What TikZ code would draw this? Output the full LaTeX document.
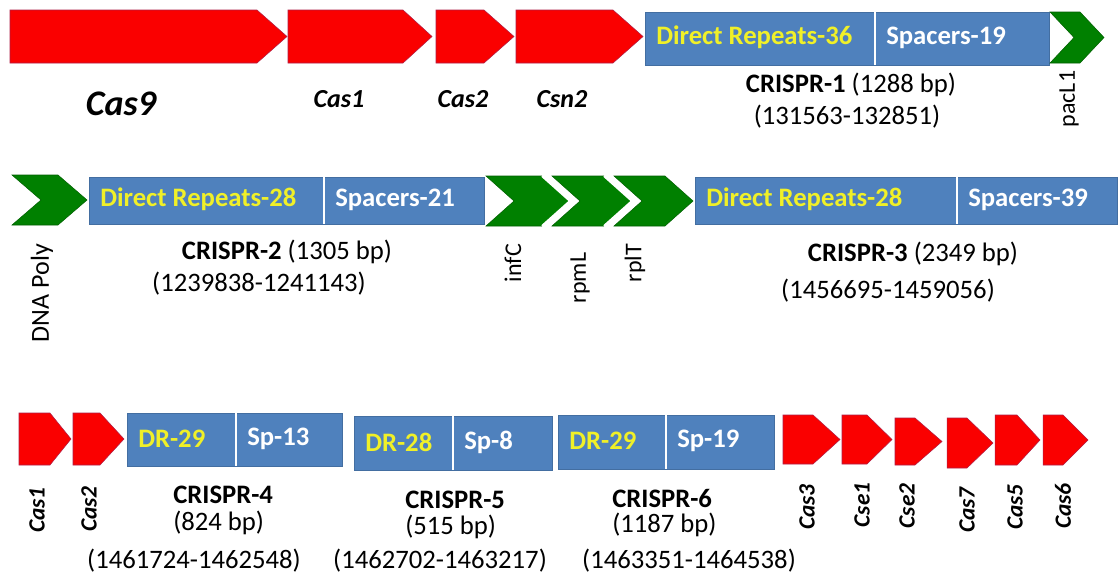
\documentclass[tikz,border=0pt]{standalone}
\usepackage{fontspec}
\setmainfont{Carlito}

\definecolor{genered}{RGB}{250,0,0}
\definecolor{geneedge}{RGB}{175,30,70}
\definecolor{genegreen}{RGB}{0,128,0}
\definecolor{crisprblue}{RGB}{79,129,189}
\definecolor{dryellow}{RGB}{240,240,40}

\tikzset{
  redgene/.style={fill=genered, draw=geneedge, line width=0.4pt, line join=miter},
  greengene/.style={fill=genegreen, draw=genegreen!75!black, line width=0.4pt},
  whitegap/.style={draw=white, line width=1.6pt},
  arraybox/.style={fill=crisprblue, draw=crisprblue!85!black, line width=0.4pt},
  boxtext/.style={font=\fontsize{20pt}{24pt}\selectfont\bfseries, anchor=west, inner sep=0pt},
  lbl/.style={font=\fontsize{20pt}{24pt}\selectfont, inner sep=0pt, text=black},
  lblw/.style={lbl, anchor=west},
  genebig/.style={font=\fontsize{27pt}{30pt}\selectfont\bfseries\itshape, inner sep=0pt},
  genetop/.style={font=\fontsize{19.5pt}{22pt}\selectfont\bfseries\itshape, inner sep=0pt},
  generot/.style={font=\fontsize{17.5pt}{20pt}\selectfont\bfseries\itshape, inner sep=0pt, rotate=90},
  smallrot/.style={font=\fontsize{18pt}{20pt}\selectfont, inner sep=0pt, rotate=90},
}

% gene arrow: left, shoulder, tip, top, bottom
\newcommand\genearrow[5]{%
  \draw[redgene] (#1,#4) -- (#2,#4) -- (#3,{(#4+#5)/2}) -- (#2,#5) -- (#1,#5) -- cycle;}
% chevron: left, shoulder, tip, top, bottom
\newcommand\genechevron[5]{%
  \filldraw[greengene] (#1,#4) -- (#2,#4) -- (#3,{(#4+#5)/2}) -- (#2,#5) -- (#1,#5)
    -- ({#1+#3-#2},{(#4+#5)/2}) -- cycle;}
% CRISPR array: name, left, divider, right, top, bottom, repeats text, spacers text
\newcommand\crisprarray[8]{%
  \draw[arraybox] (#2,#5) rectangle (#4,#6);
  \draw[white, line width=1.1pt] (#3,#5) -- (#3,#6);
  \node[boxtext, text=dryellow] (#1dr) at ({#2+11},{(#5+#6)/2-1}) {#7};
  \node[boxtext, text=white] (#1sp) at ({#3+11},{(#5+#6)/2-1}) {#8};}

\begin{document}
\begin{tikzpicture}[x=0.75pt, y=-0.75pt]
\useasboundingbox (0,0) rectangle (1119,575);
\fill[white] (0,0) rectangle (1119,575);

% ---- first row ----
\genearrow{10}{257}{287}{10}{63}
\genearrow{288}{403}{432}{10}{63}
\genearrow{436}{484}{514}{10}{63}
\genearrow{516}{613}{643}{10}{63}
\crisprarray{c1}{645}{875}{1049}{12}{65}{Direct Repeats-36}{Spacers-19}
\genechevron{1050}{1080}{1104}{12}{63}

\node[genebig] (cas9) at (121,104) {Cas9};
\node[genetop] (cas1a) at (339,99) {Cas1};
\node[genetop] (cas2a) at (463,99) {Cas2};
\node[genetop] (csn2) at (562,99) {Csn2};
\node[lbl] (cr1) at (851,85) {\textbf{CRISPR-1} (1288 bp)};
\node[lbl] (cr1pos) at (847,117) {(131563-132851)};
\node[smallrot] (pacl) at (1069,99) {pacL1};

% ---- second row ----
\genechevron{12}{58}{87}{175}{225}
\crisprarray{c2}{89}{324}{484}{177}{224}{Direct Repeats-28}{Spacers-21}
\genechevron{486}{542}{570}{176}{226}
\draw[whitegap] (542,176) -- (570,201) -- (542,226);
\genechevron{552}{604}{632}{176}{226}
\draw[whitegap] (604,176) -- (632,201) -- (604,226);
\genechevron{614}{665}{693}{176}{226}
\crisprarray{c3}{695}{957}{1117}{177}{224}{Direct Repeats-28}{Spacers-39}

\node[font=\fontsize{19.5pt}{22pt}\selectfont, inner sep=0pt, rotate=90] (dnapol) at (42,293) {DNA Poly};
\node[lbl] (cr2) at (287,252) {\textbf{CRISPR-2} (1305 bp)};
\node[lbl] (cr2pos) at (259,284) {(1239838-1241143)};
\node[smallrot] (infc) at (513,263) {infC};
\node[smallrot] (rpml) at (580,278) {rpmL};
\node[smallrot] (rplt) at (635,263) {rplT};
\node[lbl] (cr3) at (913,254) {\textbf{CRISPR-3} (2349 bp)};
\node[lbl] (cr3pos) at (888,291) {(1456695-1459056)};

% ---- third row ----
\genearrow{19}{50}{71}{413}{465}
\genearrow{73}{100}{124}{413}{465}
\crisprarray{c4}{127}{236}{342}{413}{466}{DR-29}{Sp-13}
\crisprarray{c5}{354}{453}{552}{416}{470}{DR-28}{Sp-8}
\crisprarray{c6}{558}{666}{774}{415}{469}{DR-29}{Sp-19}
\genearrow{783}{813}{840}{415}{464}
\genearrow{842}{867}{892}{415}{464}
\genearrow{895}{915}{942}{418}{465}
\genearrow{947}{967}{993}{418}{468}
\genearrow{995}{1017}{1040}{415}{465}
\genearrow{1043}{1063}{1088}{415}{465}

\node[generot] (cas1b) at (37,510) {Cas1};
\node[generot] (cas2b) at (89,509) {Cas2};
\node[lblw] (cr4) at (173,495) {\textbf{CRISPR-4}};
\node[lblw] (cr4len) at (173,523) {(824 bp)};
\node[lbl] (cr4pos) at (194,561) {(1461724-1462548)};
\node[lblw] (cr5) at (405,500) {\textbf{CRISPR-5}};
\node[lblw] (cr5len) at (405,527) {(515 bp)};
\node[lbl] (cr5pos) at (440,561) {(1462702-1463217)};
\node[lblw] (cr6) at (612,498) {\textbf{CRISPR-6}};
\node[lblw] (cr6len) at (612,525) {(1187 bp)};
\node[lbl] (cr6pos) at (689,561) {(1463351-1464538)};
\node[generot] (cas3) at (807,507) {Cas3};
\node[generot] (cse1) at (862,505) {Cse1};
\node[generot] (cse2) at (907,506) {Cse2};
\node[generot] (cas7) at (967,510) {Cas7};
\node[generot] (cas5) at (1015,507) {Cas5};
\node[generot] (cas6) at (1063,506) {Cas6};
\end{tikzpicture}
\end{document}
